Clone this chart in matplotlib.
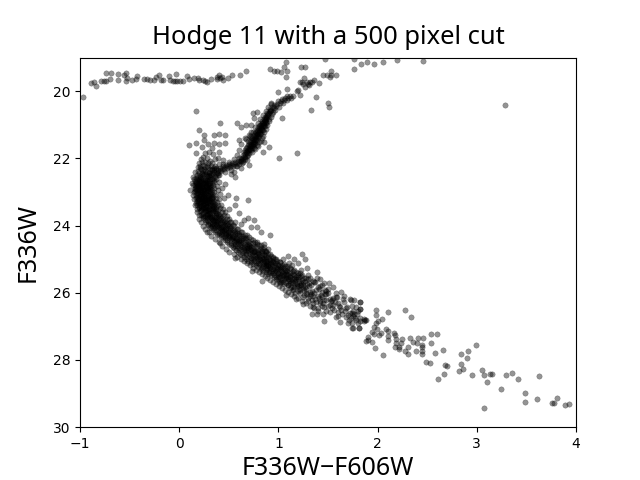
import numpy as np
import matplotlib.pyplot as plt

plt.rcParams['font.family'] = ['Noto Sans', 'DejaVu Sans']

# values, (colour, magnitude)
horizontal_branch = [
    (-0.97, 20.18), (-0.89, 19.76), (-0.86, 19.73), (-0.84, 19.86), (-0.79, 19.69), (-0.76, 19.71),
    (-0.74, 19.71), (-0.74, 19.47), (-0.69, 19.47), (-0.70, 19.64), (-0.62, 19.50), (-0.62, 19.67),
    (-0.56, 19.53), (-0.54, 19.45), (-0.53, 19.62), (-0.54, 19.71), (-0.48, 19.67), (-0.43, 19.56),
    (-0.44, 19.64), (-0.35, 19.64), (-0.32, 19.64), (-0.29, 19.66), (-0.25, 19.66), (-0.23, 19.57),
    (-0.20, 19.53), (-0.18, 19.66), (-0.16, 19.68), (-0.10, 19.56), (-0.09, 19.68), (-0.06, 19.71),
    (-0.03, 19.48), (-0.04, 19.71), (-0.02, 19.71), (0.01, 19.71), (0.04, 19.71), (0.08, 19.56),
    (0.10, 19.64), (0.15, 19.62), (0.19, 19.62), (0.20, 19.67), (0.24, 19.67), (0.26, 19.69),
    (0.28, 19.73), (0.32, 19.64), (0.38, 19.57), (0.40, 19.53), (0.41, 19.62), (0.38, 19.64),
    (0.43, 19.57), (0.44, 19.67), (0.49, 19.62), (0.53, 19.53), (0.61, 19.53), (0.67, 19.41),
]
bright_stars = [
    (0.92, 19.35), (0.96, 19.39), (0.99, 19.39), (1.03, 19.43), (1.06, 19.29), (1.08, 19.14),
    (1.09, 19.41), (1.08, 19.57), (1.23, 19.29), (1.27, 19.29), (1.47, 19.05), (1.76, 19.05),
    (1.76, 19.35), (1.53, 19.41), (1.45, 19.53), (1.49, 19.53), (1.53, 19.53), (1.58, 19.53),
    (1.52, 19.59), (1.22, 19.74), (1.26, 19.62), (1.29, 19.74), (1.32, 19.74), (1.36, 19.66),
    (1.41, 19.76), (1.20, 19.96), (1.19, 19.98), (1.27, 19.88), (1.38, 20.16), (1.22, 20.10),
    (1.09, 19.94), (1.00, 20.03), (1.50, 20.36), (1.51, 20.46), (1.33, 20.57), (1.24, 19.72),
    (1.30, 19.80), (1.34, 19.72), (1.83, 19.20), (1.89, 19.13), (1.96, 19.20), (2.05, 19.13),
    (2.20, 19.07), (2.46, 19.10), (3.28, 20.42), (1.31, 19.82), (1.25, 19.80),
]
giant_strand = [
    (0.30, 22.40), (0.33, 22.32), (0.34, 22.45), (0.37, 22.30), (0.38, 22.42), (0.41, 22.28), (0.42, 22.38),
    (0.44, 22.24), (0.45, 22.33), (0.47, 22.20), (0.48, 22.30), (0.50, 22.18), (0.51, 22.27), (0.53, 22.15),
    (0.54, 22.24), (0.56, 22.12), (0.57, 22.22), (0.59, 22.08), (0.60, 22.18), (0.62, 22.02), (0.63, 22.13),
    (0.60, 22.00), (0.65, 21.96), (0.64, 22.06), (0.66, 21.88), (0.68, 21.92), (0.65, 21.82), (0.68, 21.78),
    (0.70, 21.84), (0.67, 21.70), (0.70, 21.68), (0.72, 21.74), (0.69, 21.60), (0.72, 21.56), (0.74, 21.64),
    (0.71, 21.50), (0.74, 21.46), (0.76, 21.54), (0.73, 21.40), (0.76, 21.36), (0.78, 21.44), (0.75, 21.30),
    (0.78, 21.26), (0.80, 21.34), (0.77, 21.20), (0.80, 21.16), (0.82, 21.24), (0.79, 21.10), (0.82, 21.06),
    (0.84, 21.14), (0.81, 21.00), (0.84, 20.96), (0.86, 21.04), (0.83, 20.90), (0.86, 20.85), (0.88, 20.94),
    (0.86, 20.76), (0.89, 20.72), (0.91, 20.82), (0.89, 20.64), (0.92, 20.60), (0.94, 20.68), (0.92, 20.52),
    (0.95, 20.48), (0.97, 20.55), (0.96, 20.40), (0.99, 20.38), (1.01, 20.46), (1.00, 20.30), (1.03, 20.28),
    (1.05, 20.36), (1.04, 20.22), (1.07, 20.20), (1.09, 20.27), (1.09, 20.15), (1.12, 20.14), (1.13, 20.21),
    (1.15, 20.15), (0.74, 21.52), (0.77, 21.30), (0.79, 21.18), (0.82, 21.00), (0.71, 21.62), (0.69, 21.74),
    (0.66, 21.96), (0.75, 21.42), (0.81, 21.10), (0.85, 20.92), (0.87, 20.80), (0.75, 21.70), (0.78, 21.60),
    (0.80, 21.50), (0.83, 21.40), (0.70, 21.30), (0.67, 21.42), (0.72, 21.22), (0.85, 21.22), (0.73, 21.82),
    (0.35, 22.36), (0.39, 22.35), (0.43, 22.31), (0.46, 22.26), (0.49, 22.24), (0.52, 22.21), (0.55, 22.18),
    (0.58, 22.15), (0.61, 22.09), (0.63, 22.00), (0.66, 22.02), (0.67, 21.82), (0.69, 21.90), (0.70, 21.76),
    (0.71, 21.72), (0.73, 21.60), (0.73, 21.68), (0.75, 21.58), (0.75, 21.50), (0.77, 21.46), (0.77, 21.38),
    (0.79, 21.36), (0.79, 21.26), (0.81, 21.26), (0.81, 21.18), (0.83, 21.16), (0.83, 21.08), (0.85, 21.04),
    (0.85, 20.98), (0.87, 20.92), (0.88, 20.84), (0.90, 20.74), (0.91, 20.66), (0.93, 20.56), (0.96, 20.50),
    (0.98, 20.44), (1.02, 20.36), (1.06, 20.25), (1.10, 20.20), (0.68, 21.66), (0.64, 21.90), (0.72, 21.46),
    (0.76, 21.72), (0.79, 21.62), (0.82, 21.48), (0.84, 21.32), (0.87, 21.12), (0.89, 21.00), (0.91, 20.90),
    (0.93, 20.76), (0.95, 20.62), (0.69, 21.48), (0.71, 21.34), (0.74, 21.20), (0.76, 21.08), (0.79, 20.96),
    (0.81, 20.84), (0.84, 20.72), (0.87, 20.58), (0.90, 20.46), (0.93, 20.36), (0.64, 22.12), (0.68, 22.05),
    (0.58, 22.24), (0.52, 22.34), (0.46, 22.40), (0.40, 22.48), (0.55, 22.03), (0.50, 22.10), (0.44, 22.16),
    (0.72, 21.64), (0.74, 21.56), (0.76, 21.46), (0.78, 21.34), (0.80, 21.22), (0.82, 21.12), (0.84, 21.02),
    (0.86, 20.90), (0.88, 20.78), (0.90, 20.68), (0.92, 20.58), (0.70, 21.56), (0.72, 21.36), (0.76, 21.24),
    (0.78, 21.14), (0.80, 21.04), (0.83, 20.96), (0.85, 20.84), (0.68, 21.84), (0.66, 21.76), (0.62, 22.08),
]
scattered_upper = [
    (0.41, 20.96), (0.58, 20.96), (0.62, 21.08), (0.67, 21.02), (0.72, 21.00), (0.20, 21.16), (0.25, 21.31),
    (0.35, 21.31), (0.40, 21.28), (0.46, 21.31), (0.10, 21.61), (0.17, 21.55), (0.23, 21.67), (0.25, 21.45),
    (0.29, 21.57), (0.33, 21.70), (0.40, 21.57), (0.46, 21.55), (0.35, 21.55), (0.17, 21.85), (0.40, 21.82),
    (0.26, 21.85), (0.28, 22.00), (0.36, 22.03), (0.23, 22.10), (0.31, 22.07), (0.39, 22.00), (0.60, 21.45),
    (0.62, 21.57), (0.60, 21.75), (0.66, 21.40), (0.85, 21.52), (0.91, 21.67), (0.84, 21.82), (1.01, 22.00),
    (1.19, 21.85), (0.56, 22.54), (0.46, 22.77), (0.43, 22.89), (0.49, 23.10), (0.45, 23.19), (0.57, 23.19),
    (0.69, 23.25), (0.60, 23.63), (0.69, 23.78), (0.75, 23.83), (0.65, 23.83), (0.72, 24.05), (0.78, 24.05),
    (0.92, 24.29), (0.11, 22.94), (0.13, 22.74), (0.16, 22.39), (0.14, 22.54), (0.14, 23.09), (0.17, 23.34),
    (0.20, 23.68), (0.30, 24.18), (0.41, 24.51), (0.17, 20.59), (0.74, 20.65), (0.78, 20.62), (0.75, 20.79),
    (1.04, 20.80), (0.93, 20.38), (0.30, 21.80), (0.24, 21.95), (0.34, 21.88), (0.44, 22.05), (0.21, 22.22),
    (0.52, 22.45), (0.55, 22.40), (0.62, 22.30), (0.70, 22.20), (0.58, 21.90), (0.56, 23.40), (0.50, 23.50),
    (0.62, 23.95), (0.56, 23.90), (0.82, 24.18), (0.22, 22.02), (0.26, 22.10), (0.29, 22.14), (0.33, 22.15),
    (0.24, 22.20), (0.28, 22.22), (0.32, 22.23), (0.36, 22.22), (0.40, 22.18), (0.20, 22.14), (0.19, 22.25),
]
turnoff = [
    (0.21, 22.28), (0.25, 22.31), (0.29, 22.27), (0.33, 22.36), (0.37, 22.33), (0.41, 22.35),
    (0.19, 22.38), (0.23, 22.42), (0.26, 22.37), (0.30, 22.44), (0.35, 22.40), (0.39, 22.44),
    (0.18, 22.49), (0.21, 22.52), (0.25, 22.47), (0.28, 22.53), (0.32, 22.50), (0.36, 22.54), (0.39, 22.50),
    (0.17, 22.58), (0.20, 22.62), (0.23, 22.57), (0.26, 22.63), (0.29, 22.59), (0.33, 22.62), (0.37, 22.60),
    (0.16, 22.68), (0.19, 22.72), (0.22, 22.67), (0.25, 22.73), (0.28, 22.68), (0.31, 22.72), (0.35, 22.69),
    (0.16, 22.78), (0.18, 22.82), (0.21, 22.77), (0.24, 22.83), (0.27, 22.78), (0.30, 22.82), (0.34, 22.79),
    (0.16, 22.88), (0.19, 22.92), (0.22, 22.87), (0.25, 22.93), (0.28, 22.88), (0.31, 22.92), (0.35, 22.89),
    (0.16, 22.98), (0.19, 23.02), (0.22, 22.97), (0.25, 23.03), (0.28, 22.98), (0.31, 23.02), (0.35, 22.99),
    (0.17, 23.08), (0.20, 23.12), (0.23, 23.07), (0.26, 23.13), (0.29, 23.08), (0.32, 23.12), (0.36, 23.09),
    (0.17, 23.18), (0.20, 23.22), (0.23, 23.17), (0.26, 23.23), (0.29, 23.18), (0.33, 23.22), (0.37, 23.19),
    (0.18, 23.28), (0.21, 23.32), (0.24, 23.27), (0.27, 23.33), (0.30, 23.28), (0.34, 23.32), (0.38, 23.29),
    (0.18, 23.38), (0.22, 23.42), (0.25, 23.37), (0.28, 23.43), (0.31, 23.38), (0.35, 23.42), (0.39, 23.39),
    (0.20, 23.48), (0.23, 23.52), (0.26, 23.47), (0.29, 23.53), (0.33, 23.48), (0.37, 23.52), (0.41, 23.49),
    (0.21, 23.58), (0.24, 23.62), (0.27, 23.57), (0.31, 23.63), (0.34, 23.58), (0.38, 23.62), (0.43, 23.59),
    (0.22, 23.68), (0.26, 23.72), (0.29, 23.67), (0.33, 23.73), (0.37, 23.68), (0.41, 23.72), (0.45, 23.69),
    (0.24, 23.78), (0.28, 23.82), (0.32, 23.77), (0.36, 23.83), (0.40, 23.78), (0.44, 23.82), (0.48, 23.79),
    (0.27, 23.88), (0.31, 23.92), (0.35, 23.87), (0.39, 23.93), (0.43, 23.88), (0.47, 23.92), (0.51, 23.89),
    (0.29, 23.98), (0.33, 24.02), (0.38, 23.97), (0.42, 24.03), (0.46, 23.98), (0.50, 24.02), (0.54, 23.99),
    (0.32, 24.08), (0.37, 24.12), (0.41, 24.07), (0.45, 24.13), (0.49, 24.08), (0.54, 24.12), (0.58, 24.09),
    (0.36, 24.18), (0.40, 24.22), (0.45, 24.17), (0.49, 24.23), (0.53, 24.18), (0.58, 24.22), (0.63, 24.19),
    (0.40, 24.28), (0.45, 24.32), (0.49, 24.27), (0.53, 24.33), (0.58, 24.28), (0.63, 24.32), (0.68, 24.29),
    (0.44, 24.38), (0.48, 24.42), (0.53, 24.37), (0.57, 24.43), (0.62, 24.38), (0.67, 24.42), (0.72, 24.39),
    (0.24, 22.90), (0.27, 23.20), (0.22, 23.30), (0.30, 23.50), (0.25, 23.10), (0.20, 22.95), (0.28, 23.65),
    (0.33, 23.95), (0.36, 24.05), (0.42, 24.25), (0.26, 22.70), (0.31, 22.55), (0.24, 22.50), (0.29, 22.85),
]
turnoff_core = [
    (0.22, 22.33), (0.26, 22.26), (0.31, 22.33), (0.35, 22.30), (0.20, 22.44), (0.24, 22.36), (0.28, 22.40),
    (0.33, 22.43), (0.37, 22.47), (0.19, 22.54), (0.23, 22.46), (0.27, 22.47), (0.30, 22.50), (0.34, 22.57),
    (0.18, 22.64), (0.21, 22.58), (0.24, 22.64), (0.28, 22.64), (0.31, 22.61), (0.35, 22.63), (0.17, 22.73),
    (0.20, 22.66), (0.23, 22.72), (0.27, 22.73), (0.30, 22.67), (0.33, 22.74), (0.17, 22.84), (0.20, 22.79),
    (0.23, 22.84), (0.26, 22.80), (0.29, 22.77), (0.32, 22.84), (0.17, 22.93), (0.20, 22.86), (0.23, 22.94),
    (0.27, 22.93), (0.30, 22.87), (0.33, 22.95), (0.18, 23.04), (0.21, 22.99), (0.24, 23.05), (0.27, 23.02),
    (0.30, 22.97), (0.33, 23.05), (0.18, 23.14), (0.21, 23.07), (0.24, 23.14), (0.28, 23.14), (0.31, 23.08),
    (0.34, 23.15), (0.19, 23.24), (0.22, 23.18), (0.25, 23.25), (0.28, 23.23), (0.31, 23.19), (0.35, 23.26),
    (0.19, 23.34), (0.23, 23.27), (0.26, 23.34), (0.29, 23.32), (0.32, 23.28), (0.36, 23.36), (0.20, 23.44),
    (0.24, 23.38), (0.27, 23.45), (0.30, 23.43), (0.33, 23.38), (0.37, 23.45), (0.22, 23.54), (0.25, 23.48),
    (0.28, 23.55), (0.32, 23.54), (0.35, 23.48), (0.39, 23.55), (0.23, 23.64), (0.26, 23.58), (0.30, 23.65),
    (0.33, 23.63), (0.36, 23.57), (0.40, 23.65), (0.25, 23.74), (0.28, 23.68), (0.31, 23.74), (0.35, 23.73),
    (0.39, 23.68), (0.43, 23.75), (0.26, 23.84), (0.30, 23.78), (0.34, 23.84), (0.38, 23.83), (0.42, 23.78),
    (0.46, 23.85), (0.29, 23.94), (0.33, 23.88), (0.37, 23.94), (0.41, 23.93), (0.45, 23.88), (0.49, 23.95),
    (0.31, 24.04), (0.35, 23.98), (0.40, 24.05), (0.44, 24.03), (0.48, 23.98), (0.52, 24.05), (0.35, 24.14),
    (0.39, 24.08), (0.43, 24.15), (0.47, 24.13), (0.51, 24.08), (0.56, 24.15), (0.38, 24.24), (0.43, 24.18),
    (0.47, 24.25), (0.51, 24.23), (0.55, 24.18), (0.60, 24.25), (0.42, 24.34), (0.47, 24.28), (0.51, 24.35),
    (0.55, 24.33), (0.60, 24.28), (0.65, 24.35), (0.46, 24.44), (0.50, 24.38), (0.55, 24.45), (0.60, 24.43),
    (0.64, 24.38), (0.69, 24.45), (0.21, 22.80), (0.25, 22.88), (0.22, 23.00), (0.26, 23.06), (0.23, 23.22),
    (0.28, 23.30), (0.24, 23.46), (0.29, 23.58), (0.31, 23.70), (0.36, 23.78), (0.38, 23.90), (0.43, 24.00),
    (0.46, 24.10), (0.50, 24.20), (0.54, 24.30), (0.58, 24.40), (0.29, 22.52), (0.26, 22.60), (0.22, 22.62),
    (0.31, 22.78), (0.19, 22.83), (0.19, 23.10), (0.30, 23.12), (0.33, 23.30), (0.21, 23.40), (0.34, 23.52),
    (0.18, 22.75), (0.21, 22.70), (0.24, 22.76), (0.27, 22.84), (0.30, 22.74), (0.18, 22.95), (0.21, 22.91),
    (0.26, 22.98), (0.29, 22.94), (0.32, 22.99), (0.19, 23.17), (0.22, 23.11), (0.25, 23.18), (0.30, 23.24),
    (0.33, 23.17), (0.20, 23.30), (0.24, 23.33), (0.27, 23.39), (0.31, 23.34), (0.34, 23.42), (0.22, 23.49),
    (0.26, 23.53), (0.30, 23.48), (0.34, 23.60), (0.37, 23.63), (0.24, 23.70), (0.28, 23.75), (0.33, 23.79),
    (0.37, 23.74), (0.41, 23.84), (0.29, 23.86), (0.34, 23.92), (0.39, 23.86), (0.44, 23.94), (0.34, 24.06),
    (0.38, 24.01), (0.42, 24.10), (0.47, 24.06), (0.51, 24.14), (0.41, 24.20), (0.46, 24.22), (0.50, 24.30),
    (0.56, 24.24), (0.46, 24.35), (0.52, 24.41), (0.57, 24.36), (0.62, 24.44), (0.67, 24.36),
]
main_sequence = [
    (0.48, 24.48), (0.52, 24.52), (0.57, 24.47), (0.61, 24.53), (0.66, 24.48), (0.71, 24.52), (0.76, 24.49),
    (0.52, 24.58), (0.56, 24.62), (0.61, 24.57), (0.65, 24.63), (0.70, 24.58), (0.75, 24.62), (0.80, 24.59),
    (0.55, 24.68), (0.60, 24.72), (0.65, 24.67), (0.69, 24.73), (0.74, 24.68), (0.79, 24.72), (0.84, 24.69),
    (0.59, 24.78), (0.64, 24.82), (0.69, 24.77), (0.73, 24.83), (0.78, 24.78), (0.83, 24.82), (0.88, 24.79),
    (0.63, 24.88), (0.68, 24.92), (0.73, 24.87), (0.78, 24.93), (0.83, 24.88), (0.88, 24.92), (0.93, 24.89),
    (0.67, 24.98), (0.72, 25.02), (0.77, 24.97), (0.82, 25.03), (0.87, 24.98), (0.92, 25.02), (0.97, 24.99),
    (0.72, 25.08), (0.77, 25.12), (0.82, 25.07), (0.87, 25.13), (0.92, 25.08), (0.97, 25.12), (1.02, 25.09),
    (0.77, 25.18), (0.82, 25.22), (0.87, 25.17), (0.92, 25.23), (0.97, 25.18), (1.02, 25.22), (1.07, 25.19),
    (0.82, 25.28), (0.87, 25.32), (0.92, 25.27), (0.97, 25.33), (1.02, 25.28), (1.07, 25.32), (1.13, 25.29),
    (0.87, 25.38), (0.92, 25.42), (0.97, 25.37), (1.02, 25.43), (1.07, 25.38), (1.12, 25.42), (1.18, 25.39),
    (0.93, 25.48), (0.98, 25.52), (1.03, 25.47), (1.08, 25.53), (1.13, 25.48), (1.18, 25.52), (1.23, 25.49),
    (0.98, 25.58), (1.03, 25.62), (1.08, 25.57), (1.13, 25.63), (1.18, 25.58), (1.24, 25.62), (1.30, 25.59),
    (1.03, 25.68), (1.08, 25.72), (1.14, 25.67), (1.19, 25.73), (1.25, 25.68), (1.31, 25.72), (1.37, 25.69),
    (1.10, 25.78), (1.16, 25.82), (1.22, 25.77), (1.27, 25.83), (1.33, 25.78), (1.40, 25.82),
    (1.15, 25.90), (1.22, 25.93), (1.28, 25.88), (1.34, 25.94), (1.41, 25.90), (1.47, 25.92),
    (1.22, 26.02), (1.29, 26.05), (1.36, 26.00), (1.43, 26.06), (1.50, 26.02),
    (1.30, 26.15), (1.37, 26.18), (1.44, 26.13), (1.52, 26.17), (1.58, 26.12),
    (1.38, 26.28), (1.45, 26.30), (1.53, 26.25), (1.60, 26.31), (1.66, 26.27),
    (1.46, 26.42), (1.54, 26.44), (1.61, 26.38), (1.68, 26.46), (1.74, 26.40),
    (1.52, 26.56), (1.60, 26.58), (1.67, 26.53), (1.74, 26.60), (1.80, 26.55),
    (1.60, 26.70), (1.68, 26.72), (1.75, 26.68), (1.82, 26.74), (1.86, 26.78), (1.71, 26.80), (1.78, 26.82),
    (0.85, 24.55), (0.90, 24.70), (0.60, 24.45), (0.80, 25.00), (0.90, 25.20), (1.00, 25.40),
    (1.10, 25.60), (1.20, 25.80), (0.75, 24.75), (0.70, 24.60), (0.85, 25.10), (0.95, 25.30), (1.05, 25.50),
]
main_sequence_core = [
    (0.50, 24.54), (0.55, 24.50), (0.59, 24.55), (0.64, 24.52), (0.69, 24.55), (0.74, 24.53), (0.78, 24.56),
    (0.54, 24.64), (0.58, 24.60), (0.63, 24.65), (0.68, 24.62), (0.72, 24.65), (0.77, 24.63), (0.82, 24.66),
    (0.57, 24.74), (0.62, 24.70), (0.67, 24.75), (0.71, 24.70), (0.76, 24.75), (0.81, 24.74), (0.86, 24.76),
    (0.61, 24.84), (0.66, 24.80), (0.71, 24.85), (0.75, 24.80), (0.80, 24.85), (0.85, 24.84), (0.90, 24.86),
    (0.65, 24.94), (0.70, 24.90), (0.75, 24.95), (0.80, 24.90), (0.85, 24.95), (0.90, 24.94), (0.95, 24.96),
    (0.69, 25.04), (0.74, 25.00), (0.79, 25.05), (0.84, 25.00), (0.89, 25.05), (0.94, 25.04), (0.99, 25.06),
    (0.74, 25.14), (0.79, 25.10), (0.84, 25.15), (0.89, 25.10), (0.94, 25.15), (0.99, 25.14), (1.04, 25.16),
    (0.79, 25.24), (0.84, 25.20), (0.89, 25.25), (0.94, 25.20), (0.99, 25.25), (1.04, 25.24), (1.09, 25.26),
    (0.84, 25.34), (0.89, 25.30), (0.94, 25.35), (0.99, 25.30), (1.04, 25.35), (1.09, 25.34), (1.15, 25.36),
    (0.90, 25.44), (0.95, 25.40), (1.00, 25.45), (1.05, 25.40), (1.10, 25.45), (1.15, 25.44), (1.20, 25.46),
    (0.96, 25.54), (1.01, 25.50), (1.06, 25.55), (1.11, 25.50), (1.16, 25.55), (1.21, 25.54), (1.26, 25.56),
    (1.01, 25.64), (1.06, 25.60), (1.11, 25.65), (1.16, 25.60), (1.21, 25.65), (1.27, 25.64), (1.06, 25.74),
    (1.12, 25.70), (1.17, 25.75), (1.23, 25.70), (1.29, 25.75), (1.13, 25.84), (1.19, 25.80), (1.25, 25.85),
    (1.31, 25.80), (1.20, 25.96), (1.26, 25.92), (1.32, 25.98), (1.38, 25.92), (1.44, 25.97), (1.26, 26.08),
    (1.33, 26.03), (1.40, 26.09), (1.47, 26.05), (1.34, 26.22), (1.41, 26.15), (1.48, 26.22), (1.55, 26.16),
    (0.66, 24.58), (0.72, 24.74), (0.78, 24.88), (0.83, 24.96), (0.88, 25.08), (0.93, 25.12), (0.98, 25.22),
    (1.03, 25.32), (1.08, 25.44), (1.12, 25.54), (1.17, 25.66), (1.23, 25.78), (0.62, 24.48), (0.68, 24.68),
    (0.56, 24.56), (0.60, 24.66), (0.65, 24.72), (0.70, 24.66), (0.74, 24.80), (0.79, 24.82), (0.83, 24.76),
    (0.67, 24.86), (0.72, 24.96), (0.76, 24.90), (0.81, 24.98), (0.86, 24.88), (0.91, 24.98), (0.75, 25.06),
    (0.80, 25.14), (0.85, 25.06), (0.90, 25.16), (0.95, 25.08), (1.00, 25.16), (0.83, 25.26), (0.88, 25.20),
    (0.93, 25.30), (0.98, 25.36), (1.03, 25.26), (1.08, 25.36), (0.91, 25.38), (0.96, 25.46), (1.01, 25.54),
    (1.06, 25.46), (1.11, 25.58), (1.16, 25.46), (1.00, 25.60), (1.05, 25.68), (1.10, 25.76), (1.15, 25.70),
    (1.20, 25.60), (1.25, 25.78), (1.15, 25.92), (1.21, 25.88), (1.28, 26.00), (1.35, 26.10), (1.42, 26.24),
]
band_edges = [
    (0.15, 22.60), (0.14, 22.80), (0.15, 23.00), (0.15, 23.20), (0.16, 23.40), (0.18, 23.60), (0.20, 23.80),
    (0.24, 24.00), (0.28, 24.20), (0.36, 24.40), (0.43, 24.60), (0.50, 24.80), (0.17, 22.70), (0.16, 22.92),
    (0.18, 23.52), (0.22, 23.90), (0.26, 24.10), (0.32, 24.30), (0.40, 24.50), (0.47, 24.70),
    (0.40, 22.70), (0.39, 22.95), (0.40, 23.20), (0.42, 23.40), (0.46, 23.60), (0.50, 23.80), (0.55, 24.00),
    (0.62, 24.20), (0.70, 24.35), (0.78, 24.50), (0.85, 24.65), (0.92, 24.85), (0.98, 25.00), (1.06, 25.15),
    (1.12, 25.25), (1.20, 25.40), (1.28, 25.55), (1.35, 25.65), (1.42, 25.80), (1.48, 25.95), (0.38, 22.82),
    (0.41, 23.05), (0.44, 23.50), (0.48, 23.70), (0.52, 23.90), (0.59, 24.10), (0.66, 24.28), (0.74, 24.42),
    (0.82, 24.58), (0.88, 24.76), (0.95, 24.92), (1.02, 25.08), (1.09, 25.20), (1.16, 25.32), (1.24, 25.48),
    (0.55, 24.85), (0.62, 25.00), (0.68, 25.12), (0.74, 25.25), (0.80, 25.38), (0.86, 25.50), (0.92, 25.62),
    (0.98, 25.74), (1.04, 25.86), (1.10, 25.98), (1.16, 26.10), (1.24, 26.24), (1.32, 26.38), (1.40, 26.55),
    (0.58, 24.92), (0.65, 25.06), (0.71, 25.18), (0.77, 25.32), (0.83, 25.44), (0.89, 25.56), (0.95, 25.68),
    (1.01, 25.80), (1.07, 25.92), (1.13, 26.04), (1.20, 26.16), (1.28, 26.30), (1.36, 26.46), (1.44, 26.40),
    (1.52, 26.36), (1.56, 26.50), (1.64, 26.62), (1.46, 26.20), (1.57, 26.28), (1.35, 26.30), (1.62, 26.42),
]
scattered_lower = [
    (1.24, 24.85), (1.27, 25.00), (1.10, 24.90), (1.16, 25.00), (1.20, 25.10), (1.11, 25.12), (1.39, 25.39),
    (1.29, 25.27), (1.23, 25.32), (1.51, 25.72), (1.55, 25.82), (1.63, 25.98), (0.83, 25.66), (0.73, 25.34),
    (0.56, 24.97), (1.08, 26.07), (1.18, 26.19), (1.25, 26.34), (1.34, 26.64), (1.39, 26.63), (1.46, 26.83),
    (1.45, 26.64), (1.65, 26.19), (1.72, 26.19), (1.82, 26.28), (1.82, 26.48), (1.69, 26.41), (1.62, 26.86),
    (1.70, 26.91), (1.74, 27.04), (1.81, 27.04), (1.87, 26.81), (1.39, 25.57), (1.42, 25.60), (1.35, 26.41),
    (1.32, 26.11), (1.54, 26.21), (1.59, 26.13), (1.12, 25.85), (1.02, 25.72), (1.30, 26.25), (1.40, 26.45),
    (1.05, 24.98), (1.14, 25.18), (1.30, 25.48), (1.46, 25.70), (1.48, 26.55), (1.58, 26.72), (1.55, 26.35),
    (1.22, 25.42), (1.32, 25.55), (1.36, 25.68), (1.44, 25.78), (1.50, 25.90), (1.17, 26.00), (1.25, 26.12),
    (1.42, 26.30), (1.50, 26.40), (1.63, 26.50), (1.70, 26.65), (1.48, 26.03), (1.58, 26.02), (1.66, 26.10),
]
faint_stars = [
    (1.82, 26.28), (1.76, 26.21), (1.73, 26.21), (1.82, 26.49), (1.78, 26.41), (1.75, 26.53), (1.72, 26.61),
    (1.76, 26.63), (1.79, 26.63), (1.73, 26.76), (1.77, 26.76), (1.82, 26.83), (1.86, 26.83), (1.88, 26.81),
    (1.74, 26.91), (1.80, 26.91), (1.75, 27.06), (1.81, 27.06), (1.98, 26.52), (1.98, 26.67), (2.10, 26.58),
    (2.04, 26.77), (2.28, 26.52), (2.34, 26.73), (1.98, 26.89), (2.00, 26.83), (1.96, 27.03), (1.99, 27.09),
    (1.94, 27.16), (1.96, 27.23), (2.01, 27.26), (2.03, 27.21), (2.08, 27.09), (2.10, 27.13), (2.10, 27.29),
    (2.10, 27.41), (2.17, 27.21), (2.18, 27.26), (2.19, 27.37), (2.25, 27.37), (2.24, 27.48), (2.19, 27.48),
    (2.18, 27.60), (2.22, 27.68), (2.22, 27.62), (2.31, 27.62), (2.28, 27.74), (2.31, 27.83), (2.39, 27.74),
    (2.05, 27.86), (1.97, 27.65), (1.90, 27.31), (1.88, 27.43), (1.94, 27.45), (1.90, 27.39), (2.33, 27.34),
    (2.36, 27.45), (2.41, 27.36), (2.46, 27.36), (2.40, 27.50), (2.45, 27.56), (2.45, 27.60), (2.45, 27.72),
    (2.45, 27.83), (2.54, 27.24), (2.60, 27.24), (2.54, 27.50), (2.58, 27.80), (2.66, 27.71), (2.49, 28.07),
    (2.53, 28.10), (2.68, 28.14), (2.70, 28.19), (2.67, 28.43), (2.61, 28.58), (2.84, 27.83), (2.91, 27.74),
    (2.99, 27.56), (2.90, 27.95), (2.84, 28.13), (2.86, 28.28), (2.82, 28.34), (2.95, 28.46), (3.05, 28.31),
    (3.07, 28.46), (3.13, 28.41), (3.15, 28.43), (3.10, 28.66), (3.29, 28.46), (3.35, 28.40), (3.42, 28.58),
    (3.63, 28.49), (3.24, 28.87), (3.49, 28.99), (3.49, 29.26), (3.61, 29.17), (3.76, 29.29), (3.78, 29.27),
    (3.81, 29.14), (3.89, 29.35), (3.93, 29.32), (3.07, 29.44),
]

stars = np.array(horizontal_branch + bright_stars + giant_strand + scattered_upper + turnoff + turnoff_core
                 + main_sequence + main_sequence_core + band_edges + scattered_lower + faint_stars)

fig, ax = plt.subplots()
ax.scatter(stars[:, 0], stars[:, 1], s=15, c='k', alpha=0.42, linewidths=0.3)
ax.set_xlim(-1, 4)
ax.set_ylim(30, 19)
ax.set_yticks([20, 22, 24, 26, 28, 30])
ax.tick_params(labelfontfamily='DejaVu Sans')
ax.set_xlabel("F336W\u2212F606W", fontsize=18, labelpad=4)
ax.set_ylabel("F336W", fontsize=18, labelpad=9)
ax.set_title("Hodge 11 with a 500 pixel cut", fontsize=18.4, pad=10)
fig.savefig("out.png", dpi=100)
